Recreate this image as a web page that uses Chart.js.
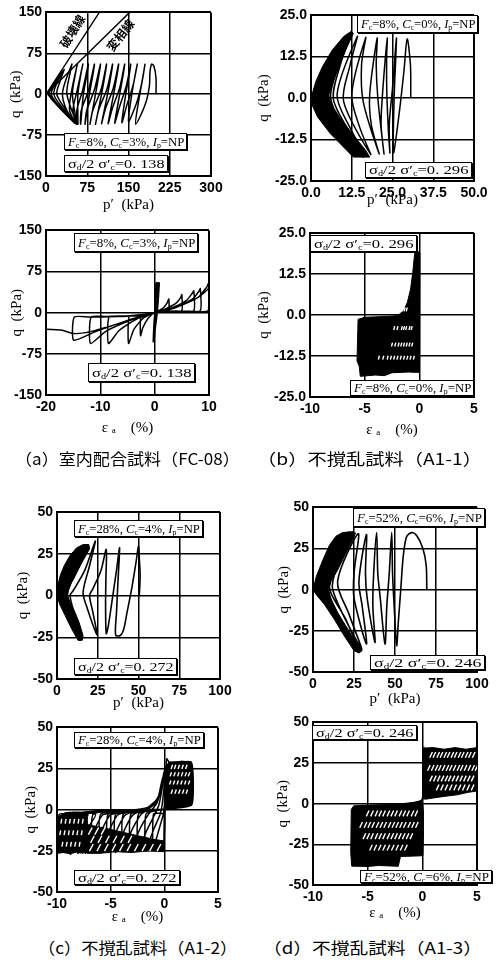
<!DOCTYPE html>
<html lang="ja">
<head>
<meta charset="utf-8">
<title>有効応力経路と応力ひずみ関係</title>
<script src="https://cdn.jsdelivr.net/npm/chart.js@4.4.1/dist/chart.umd.min.js"></script>
<style>
  html, body { margin: 0; padding: 0; background: #fff; }
  #page { position: relative; width: 499px; height: 970px; overflow: hidden; }
  #page canvas { position: absolute; }
  .box { position: absolute; background: #fff; border: 1px solid #000; box-shadow: 1px 1px 0 #000;
         box-sizing: border-box; overflow: hidden; white-space: nowrap; color: #000;
         font: 13px 'Liberation Serif', serif; display: flex; align-items: center; padding-left: 3px; }
  .box span, .cap span { display: inline-block; transform-origin: 0 50%; }
  .box sub { font-size: 8px; vertical-align: -2px; line-height: 0; }
  .cap { position: absolute; white-space: nowrap; font: 16px 'Noto Sans CJK JP', sans-serif; line-height: 20px; color: #000; }
  .lbl { position: absolute; white-space: nowrap; font: bold 12px 'Noto Sans CJK JP', sans-serif; line-height: 14px; }
</style>
</head>
<body>
<div id="page"></div>
<script>
// ---- (a) 室内配合試料 FC-08 : 有効応力経路 p'-q
const aPath = [
  [200,0],[200,30],[196,52],[192,55],[189,40],[188,15],[180,-20],[163,-55],
  [168,-15],[176,30],[180,55],[174,20],[165,-15],[150,-50],
  [156,0],[163,40],[166,55],[158,15],[147,-20],[138,-52],
  [145,0],[152,40],[154,55],[146,15],[134,-22],[125,-53],
  [134,0],[141,40],[143,55],[134,12],[121,-25],[113,-54],
  [123,0],[130,40],[132,55],[122,10],[108,-27],[101,-54],
  [112,0],[119,40],[121,55],[111,10],[96,-28],[90,-55],
  [101,0],[108,40],[110,55],[100,8],[85,-30],[80,-55],
  [90,0],[97,40],[99,55],[88,8],[74,-30],[71,-55],
  [79,0],[86,40],[88,55],[77,6],[64,-30],[63,-55],
  [68,0],[75,40],[77,55],[66,5],[56,-30],[58,-55],
  [58,0],[64,40],[67,55],[56,4],[49,-30],[56,-55],
  [48,0],[54,40],[57,55],[46,3],[43,-30],[56,-55],
  [38,0],[44,40],[47,55],[30,3],[38,-30],[56,-55],
  [20,-2],[26,25],[33,45],[14,2],[30,-25],[54,-54],
  [10,-2],[20,25],[31,43],[9,1],[26,-25],[52,-53],
  [6,-1],[18,25],[29,41],[5,1],[22,-22],[50,-51],
  [3,0]
];
const aFailLine = [[0,0],[97,150]];    // 破壊線
const aPhaseLine = [[0,0],[152,150]];  // 変相線

// ---- (a) 応力ひずみ εa-q
const aLoop = [
  [0,0],[0.25,54],[0.1,5],[0,-44],[0.15,-2],[0.4,55],[0.2,5],[-0.1,-46],[0.2,-2],[0.55,54],
  [0.3,5],[-0.15,-48],[0.25,-3],[0.7,55],[0.4,3],[-0.2,-50],[0.3,-4],[0.85,54],[0.5,3],[-0.25,-53],
  [0,-5],[0.5,2],[1.5,8],[2.3,18],[2.6,25],
  [2.55,3],[1.2,2],[0,0],[-1.2,-10],[-2.2,-28],[-2.6,-42],
  [-2.5,-6],[-1,-3],[0,0],[2,7],[4,18],[4.8,28],[5,33],
  [4.95,3],[2.5,2.5],[0.5,1.5],[0,0],[-2,-9],[-3.8,-30],[-4.8,-56],
  [-4.7,-7],[-3,-6],[-1,-3],[0,0],[3,8],[5.8,22],[6.9,35],[7.2,40],
  [7.15,3],[3,2.5],[0.5,2],[0,0],[-3,-10],[-6.5,-32],[-8.5,-56],
  [-8.4,-8],[-6,-7],[-2.5,-4],[0,0],[3.5,8],[7,25],[8.2,40],[8.4,44],
  [8.35,3],[4,3],[1,2],[0,0],[-4,-12],[-9,-34],[-11.8,-56],
  [-11.7,-8],[-9,-7],[-4,-5],[0,0],[4,10],[8,28],[9.6,47],[9.9,53],
  [9.9,4],[5,3],[1,2],[0,0],[-5,-14],[-11,-35],[-14.9,-50],
  [-14.8,-8],[-12,-8],[-10,-8],[-5,-6],[0,0],[4,10],[8,28],[10,45],[10.5,55],
  [10.3,4],[5,3],[0,0],[-5,-15],[-12,-35],[-15,-38],[-17,-32],[-20,-30],[-22,-30]
];

// ---- (b) 不撹乱試料 A1-1
const bPath = [
  [30.6,0],[30.5,10],[29.5,17.8],[28.5,8],[27,-5],[25.3,-16.5],
  [25.5,0],[26,12],[26.2,18],[25,3],[24,-8],[24.2,-16.5],
  [23.3,0],[23.2,12],[23.4,18],[22,2],[21.5,-8],[22.4,-16.8],
  [20.5,0],[20,10],[20.3,18],[18,1],[18.5,-8],[20.9,-16.8],
  [16,-1],[15.5,10],[16.8,18.2],[12.5,1],[15,-9],[18.3,-17],
  [10,-1],[12,10],[14.2,18.5],[8,1],[12,-9],[16.8,-17.5],
  [7,-1],[9,10],[12.5,19.5],[6,1],[10,-9],[16,-17.8],
  [5,0]
];
const bWedge = [[0,0],[1.5,5],[3.5,9.4],[6.5,14.4],[10,18.5],[12.2,20],[13,19.5],[10.6,14.4],[8.6,9.4],
  [6.5,4.3],[5.5,1],[6,-2],[8.6,-5.7],[12.7,-10.8],[16.8,-15.8],[18,-17.8],[13,-17.8],[11,-15.8],
  [6,-10.8],[2,-5.7],[0.3,-2],[0,0]];
const bLoopArea = [[-5.6,-1.3],[-5,-0.7],[-3.5,-0.5],[-2,-0.2],[-1.45,1.2],[-1.1,3.8],[-0.8,7.9],[-0.6,13],
  [-0.45,18],[-0.35,19.8],[-0.15,19.5],[0.05,18.8],[0.05,10],[0,0],[0,-17.5],[-1,-17.4],[-2.5,-17.6],
  [-3.2,-18.5],[-4,-18.3],[-5.4,-18.7],[-5.5,-15.6],[-5.7,-14],[-5.6,-1.3]];
const bSpeckQ = [1.7, -4, -9, -13];
const bSpeckE = [
  [-1.55,-1.35,-1.15],
  [-2.3,-2.0,-1.6,-1.4,-1.2,-0.9,-0.7],
  [-2.5,-2.2,-1.9,-1.65,-1.4,-1.15,-0.9,-0.65],
  [-3.7,-3.3,-2.9,-2.6,-2.3,-2.0,-1.7,-1.4,-1.1,-0.8,-0.5]
];

// ---- (c) 不撹乱試料 A1-2
const cPath = [
  [50.5,0],[51,12],[50.5,22],[50,29.5],[48.5,20],[46,5],[43,-10],[41,-20],[39,-23.8],[36,-23.8],
  [36.5,-10],[37.5,10],[38.4,28.6],[36.5,15],[33.5,-5],[31.5,-18],[30.2,-22.8],
  [29.8,-5],[30,10],[30.2,27.6],[27,15],[22,4],[20,0],[22,-10],[24.5,-23.4],
  [18,-6],[16,2],[20,18],[23.5,32.6],[17,15],[10,3],[8,0],[11,-12],[15,-25],
  [6,-3],[8,8],[14,22],[19,29.6],[10,10],[4,1],[8,-12],[14.3,-26.4],
  [3,-2],[8,12],[17.5,30],[6,6],[2,0],[7,-12],[13,-26],[1,-1]
];
const cWedge = [[0,0],[0.5,6],[2,12],[4.5,18],[8,24],[12,28.5],[16,30.5],[19.5,30.5],[20,28],[16,21],
  [12,14],[9,8],[7,3],[6.5,0],[8,-4],[11,-10],[13.5,-16],[16,-24],[15.5,-26.8],[13,-27],[9,-20],
  [5,-12],[2,-6],[0.5,-2],[0,0]];
const cLoop = [
  [0,0],[0.1,20],[0,-2],[-0.05,-24],[0.05,-3],[0.15,25],[0.05,-2],[-0.08,-25],[0.02,-3],
  [-1.0,-2.5],[-1.05,-24],[-0.5,-12],[-0.1,-3],[0,2],[0.15,15],[0.4,27],[0.9,28.5],[0.95,3],[0,0.5],
  [-1.7,-2.5],[-1.75,-25],[-1.0,-12],[-0.4,-3],[-0.2,3],[0,15],[0.3,27],[1.2,28.5],[1.25,3],[0,0.5],
  [-2.4,-2.5],[-2.45,-25],[-1.6,-12],[-0.9,-3],[-0.5,3],[-0.15,15],[0.2,27],[1.5,28.5],[1.55,3],[0,0.5],
  [-3.1,-2.5],[-3.15,-25.5],[-2.3,-12],[-1.5,-3],[-0.7,4],[-0.2,15],[0.2,27],[1.8,29],[1.85,3],[0,0.5],
  [-3.8,-2.5],[-3.85,-25.5],[-3.0,-12],[-2.2,-3],[-0.8,4],[-0.2,15],[0.2,27],[2.0,29],[2.05,3],[0,0.5],
  [-4.5,-2.5],[-4.55,-26],[-3.7,-12],[-2.9,-3],[-1.0,3],[-0.3,12],[0.15,26],[2.2,28.5],[2.25,3],[0,0.5],
  [-5.2,-2.5],[-5.25,-26],[-4.4,-12],[-3.6,-3],[-1.2,2],[-0.4,10],[0.1,25],[2.35,29],[2.4,3],[0,0.5],
  [-5.9,-2.5],[-5.95,-26],[-5.1,-12],[-4.3,-3],[-1.4,1.5],[-0.5,8],[0.1,24],[2.45,28.5],[2.5,3],[0,0.5],
  [-6.6,-2.5],[-6.65,-26],[-5.8,-12],[-5.0,-3],[-1.5,1.4],[-0.6,7],[0,22],[2.5,29],[2.55,3],[0,0.5],
  [-7.3,-2.5],[-7.35,-26.5],[-6.5,-12],[-5.7,-3],[-1.6,1.2],[-0.6,7],[-0.16,15],[0.16,25],[0.22,31],
  [0.5,28.5],[2.5,28.5],[2.55,3],[0,0.5],
  [-8.0,-2.2],[-8.05,-26.5],[-7.2,-12],[-6.4,-3],[-8.7,-2.2],[-8.75,-27],[-7.9,-12],[-7.1,-3],
  [-9.3,-2.2],[-9.35,-26],[-8.5,-12],[-7.8,-3],[-9.8,-3],[-9.9,-26.5]
];
const cLeftBlock = [[-9.95,-26.5],[-9.95,-8],[-9.8,-4],[-9.4,-2.3],[-8.5,-2],[-7.2,-2],[-7.2,-25],
  [-7.6,-26.5],[-8.2,-25.8],[-8.8,-26.8],[-9.4,-26],[-9.95,-26.5]];
const cLowBand = [[-7.2,-9],[-5,-12],[-3,-15],[-1,-18],[0,-19],[0,-25.5],[-1.5,-25],[-3,-26],[-4.5,-25.5],
  [-6,-26.5],[-7.2,-26.5],[-7.2,-9]];
const cRightBlock = [[0,0.5],[0.08,10],[0.15,20],[0.25,27],[0.45,29],[1.5,29.2],[2.5,28.8],[2.6,26],
  [2.55,3],[1.5,2.5],[0.5,1.5],[0,0.5]];
const cSpeckQ = [26, 21.5, 16.5, 11];
const cSpeckE = [
  [0.7,1.0,1.35,1.7,2.05],
  [0.6,0.95,1.3,1.65,2.0,2.3],
  [0.55,0.9,1.25,1.6,1.95,2.3],
  [0.7,1.05,1.4,1.75,2.1]
];
const cLeftSpeckQ = [-7, -14, -21];
const cLeftSpeckE = [
  [-9.6,-9.2,-8.8,-8.4,-8.0,-7.6],
  [-9.7,-9.3,-8.9,-8.5,-8.1,-7.7],
  [-9.5,-9.1,-8.7,-8.3,-7.9]
];
const cBandStreakQ = [-13, -18, -23];
const cBandStreakE = [
  [-6.9,-6.3,-5.7],
  [-6.7,-6.0,-5.3,-4.6,-3.9,-3.2],
  [-6.8,-6.1,-5.4,-4.7,-4.0,-3.3,-2.6,-1.9,-1.2,-0.5]
];

// ---- (d) 不撹乱試料 A1-3
const dPath = [
  [69.4,0],[69,15],[67,25],[63.5,32.5],[60.2,34.7],[57,32],[55,20],[53.5,0],[52,-20],[51,-34],
  [49.5,-10],[48.5,10],[48,34.7],[46.5,10],[45,-10],[43.9,-33],
  [41,-5],[39.5,10],[38.8,34.7],[37,10],[36.5,-10],[37.8,-32],
  [33,-5],[32,10],[32.6,33.5],[28,5],[30,-10],[32.6,-33],
  [25,-5],[25,10],[27.6,34],[15,5],[22,-15],[29.6,-36],
  [12,0],[15,15],[24,35],[10,3],[20,-18],[28,-37],[9,-1],[12,12],[22,35],[9,2],[18,-20],[27,-37],[7,0]
];
const dWedge = [[0,0],[2,8],[6,18],[10,27],[14,32.5],[18,34.7],[23,35.2],[26,34.5],[24,30],[20,22],[15,12],
  [11,5],[9.5,0],[11,-6],[15,-14],[20,-22],[25,-30],[30,-37],[28,-38.5],[25,-37],[19,-28],[13,-18],
  [7,-9],[2,-3],[0,0]];
const dUpBlock = [[0,3],[0.05,10],[0.05,23],[0.1,30],[0.15,34.2],[1,34.5],[2,33.5],[3,34.5],[4,33.5],
  [5,34.5],[5.2,34.8],[5.25,25],[5.2,8],[4.2,7],[3.2,5.5],[2,4.5],[1,3.5],[0.3,2.8],[0,3]];
const dLowBlock = [[-6.5,-3.5],[-6.3,-1.5],[-5.5,-1],[-4,-0.8],[-2.9,-0.6],[-1.5,0],[-0.8,0.8],[-0.3,1.5],
  [0,2],[0.1,-5],[0.1,-20],[0.05,-32],[-2.0,-32.5],[-2.2,-38.5],[-4,-38],[-5,-38.6],[-6.46,-38.4],
  [-6.55,-30],[-6.5,-3.5]];
const dSCurve = [[-6.3,-1.5],[-3,-0.6],[-1,0.5],[-0.3,1.5],[0,3],[0.05,15],[0.1,30],[0.15,35]];
const dStreakQ = [30, 22, 15.5, 10, -6, -13, -20, -27];
const dStreakE = [
  [0.8,1.1,1.45,1.75,2.1,2.4,2.75,3.05,3.4,3.7,4.05,4.35,4.7],
  [0.6,0.95,1.3,1.6,1.95,2.3,2.6,2.95,3.3,3.6,3.95,4.3,4.65,4.95],
  [0.8,1.15,1.5,1.85,2.2,2.5,2.85,3.2,3.55,3.9,4.25,4.6],
  [1.4,1.8,2.2,2.6,3.0,3.4,3.8,4.2,4.6],
  [-5.0,-4.6,-4.2,-3.85,-3.5,-3.1,-2.75,-2.4,-2.0,-1.65,-1.3,-0.9,-0.55],
  [-5.6,-5.2,-4.85,-4.5,-4.1,-3.75,-3.4,-3.0,-2.65,-2.3,-1.95,-1.6,-1.2,-0.85,-0.5],
  [-5.3,-4.95,-4.6,-4.2,-3.85,-3.5,-3.1,-2.75,-2.4,-2.05,-1.7,-1.35,-1.0],
  [-4.7,-4.3,-3.9,-3.5,-3.1,-2.7,-2.3,-1.9,-1.5]
];

// 軸目盛
const ticksP300 = [0, 75, 150, 225, 300];
const ticksQ150 = [-150, -75, 0, 75, 150];
const ticksEps20 = [-20, -10, 0, 10];
const ticksP50 = [0, 12.5, 25, 37.5, 50];
const ticksQ25 = [-25, -12.5, 0, 12.5, 25];
const ticksP100 = [0, 25, 50, 75, 100];
const ticksQ50 = [-50, -25, 0, 25, 50];
const ticksEps10 = [-10, -5, 0, 5];

const page = document.getElementById('page');
const tickFont = { family: "'Liberation Sans', Arial, sans-serif", size: 14, weight: 'bold' };
const titleFont = { family: "'Liberation Serif', serif", size: 15 };
const int = v => String(v);
const one = v => v.toFixed(1);

function xy(pairs) { return pairs.map(p => ({ x: p[0], y: p[1] })); }

function lineSet(pairs, width, tension) {
  return { data: xy(pairs), showLine: true, borderColor: '#000', borderWidth: width,
           pointRadius: 0, tension: tension, fill: false, order: 2 };
}
function polySet(pairs) {
  return { data: xy(pairs), showLine: true, borderColor: '#000', borderWidth: 1,
           backgroundColor: '#000', pointRadius: 0, fill: 'shape', order: 3 };
}
function streakSet(rowsE, rowsQ, rot, r) {
  const pts = [];
  rowsE.forEach((row, i) => row.forEach(e => pts.push({ x: e, y: rowsQ[i] })));
  return { data: pts, showLine: false, pointStyle: 'line', pointRadius: r, borderColor: '#fff',
           pointBorderColor: '#fff', pointBorderWidth: 1.4, pointRotation: rot, order: 1 };
}

function axis(ticks, fmt, title, fit) {
  return {
    type: 'linear', min: ticks[0], max: ticks[ticks.length - 1],
    afterBuildTicks: s => { s.ticks = ticks.map(v => ({ value: v })); },
    afterFit: fit,
    grid: { color: '#000', drawTicks: false,
            lineWidth: c => (c.tick && (c.tick.value === ticks[0] || c.tick.value === ticks[ticks.length - 1])) ? 2 : 1.5 },
    border: { color: '#000', width: 2 },
    ticks: { color: '#000', padding: 4, font: tickFont, autoSkip: false, maxRotation: 0, callback: v => fmt(v) },
    title: { display: true, text: title, color: '#000', font: titleFont, padding: 0 }
  };
}

// p: frame [left, top, right, bottom], cv: [left, top, width, height]
function makeChart(p, xTicks, xFmt, xTitle, yTicks, yFmt, datasets) {
  const [fl, ft, fr, fb] = p.frame;
  const [cl, ct, cw, ch] = p.cv;
  const cv = document.createElement('canvas');
  cv.width = cw; cv.height = ch;
  cv.style.left = cl + 'px'; cv.style.top = ct + 'px';
  page.appendChild(cv);
  const padL = p.yTitleX - 9 - cl;
  const yW = fl - cl - padL;
  const xH = p.xTitleY + 9 - fb;
  new Chart(cv, {
    type: 'scatter',
    data: { datasets: datasets },
    options: {
      responsive: false, animation: false, events: [],
      layout: { padding: { left: padL, top: ft - ct, right: cl + cw - fr, bottom: ct + ch - fb - xH } },
      plugins: { legend: { display: false }, tooltip: { enabled: false } },
      scales: {
        x: axis(xTicks, xFmt, xTitle, s => { s.height = xH; }),
        y: axis(yTicks, yFmt, 'q  (kPa)', s => { s.width = yW; })
      }
    }
  });
}

const pTitle = "p\u2032  (kPa)";
const eTitle = "\u03b5 \u2090    (%)";

makeChart({ frame: [46, 10, 211, 176], cv: [0, 0, 240, 216], yTitleX: 16, xTitleY: 205 },
  ticksP300, int, pTitle, ticksQ150, int,
  [lineSet(aPath, 1.5, 0.3), lineSet(aFailLine, 1.4, 0), lineSet(aPhaseLine, 1.4, 0)]);
makeChart({ frame: [311, 15, 474, 181], cv: [250, 0, 249, 214], yTitleX: 264, xTitleY: 200 },
  ticksP50, one, pTitle, ticksQ25, one,
  [polySet(bWedge), lineSet(bPath, 1.5, 0.3)]);
makeChart({ frame: [46, 228, 209, 395], cv: [0, 218, 240, 230], yTitleX: 17, xTitleY: 428 },
  ticksEps20, int, eTitle, ticksQ150, int,
  [lineSet(aLoop, 1.5, 0.2)]);
makeChart({ frame: [310, 233, 474, 397], cv: [250, 220, 249, 225], yTitleX: 264, xTitleY: 430 },
  ticksEps10, int, eTitle, ticksQ25, one,
  [polySet(bLoopArea), streakSet(bSpeckE, bSpeckQ, -75, 2)]);
makeChart({ frame: [57, 512, 220, 679], cv: [0, 497, 240, 216], yTitleX: 23, xTitleY: 703 },
  ticksP100, int, pTitle, ticksQ50, int,
  [polySet(cWedge), lineSet(cPath, 1.6, 0.3)]);
makeChart({ frame: [313, 507, 477, 672], cv: [250, 495, 249, 214], yTitleX: 284, xTitleY: 699 },
  ticksP100, int, pTitle, ticksQ50, int,
  [polySet(dWedge), lineSet(dPath, 1.6, 0.3)]);
makeChart({ frame: [57, 727, 218, 892], cv: [0, 715, 240, 220], yTitleX: 31, xTitleY: 917 },
  ticksEps10, int, eTitle, ticksQ50, int,
  [polySet(cLeftBlock), polySet(cLowBand), polySet(cRightBlock), lineSet(cLoop, 1.5, 0.15),
   streakSet(cSpeckE, cSpeckQ, -70, 2.2), streakSet(cLeftSpeckE, cLeftSpeckQ, -80, 2.5),
   streakSet(cBandStreakE, cBandStreakQ, -62, 4)]);
makeChart({ frame: [313, 722, 477, 885], cv: [250, 710, 249, 215], yTitleX: 283, xTitleY: 913 },
  ticksEps10, int, eTitle, ticksQ50, int,
  [polySet(dUpBlock), polySet(dLowBlock), lineSet(dSCurve, 1.3, 0.3), streakSet(dStreakE, dStreakQ, -65, 3.2)]);

// 試料条件の枠
const fc = (f, c) => '<i>F</i><sub>c</sub>=' + f + '%, <i>C</i><sub>c</sub>=' + c + '%, <i>I</i><sub>p</sub>=NP';
const sr = v => '\u03c3<sub>d</sub>/2 \u03c3\u2032<sub>c</sub>=' + v;
const boxes = [
  [64, 133, 123, 17, fc(8, 3)], [64, 155, 104, 17, sr('0. 138')],
  [357, 15, 121, 18, fc(8, 0)], [365, 162, 107, 16, sr('0. 296')],
  [74, 233, 124, 19, fc(8, 3)], [88, 363, 107, 19, sr('0. 138')],
  [310, 235, 107, 17, sr('0. 296')], [350, 380, 124, 16, fc(8, 0)],
  [74, 520, 129, 17, fc(28, 4)], [74, 658, 103, 17, sr('0. 272')],
  [353, 508, 132, 19, fc(52, 6)], [370, 655, 115, 15, sr('0. 246')],
  [74, 732, 130, 16, fc(28, 4)], [74, 870, 106, 15, sr('0. 272')],
  [312, 725, 105, 15, sr('0. 246')], [360, 870, 132, 13, fc(52, 6)]
];
boxes.forEach(b => {
  const d = document.createElement('div');
  d.className = 'box';
  d.style.cssText = 'left:' + b[0] + 'px;top:' + b[1] + 'px;width:' + b[2] + 'px;height:' + b[3] + 'px;';
  d.innerHTML = '<span>' + b[4] + '</span>';
  page.appendChild(d);
  const s = d.firstChild;
  s.style.transform = 'scaleX(' + ((b[2] - 7) / s.offsetWidth) + ')';
});

// 図の見出し
const captions = [
  [15, 225, 458, '（a）室内配合試料（FC-08）'],
  [257, 225, 458, '（b）不撹乱試料（A1-1）'],
  [38, 199, 947, '（c）不撹乱試料（A1-2）'],
  [263, 219, 947, '（d）不撹乱試料（A1-3）']
];
captions.forEach(c => {
  const d = document.createElement('div');
  d.className = 'cap';
  d.style.cssText = 'left:' + c[0] + 'px;top:' + (c[2] - 10) + 'px;';
  d.innerHTML = '<span>' + c[3] + '</span>';
  page.appendChild(d);
  const s = d.firstChild;
  s.style.transform = 'scaleX(' + (c[1] / s.offsetWidth) + ')';
});

// 破壊線・変相線のラベル
[[72, 31, -58, '破壊線'], [120, 35, -52, '変相線']].forEach(l => {
  const d = document.createElement('div');
  d.className = 'lbl';
  d.textContent = l[3];
  d.style.cssText = 'left:' + l[0] + 'px;top:' + l[1] + 'px;transform:translate(-50%,-50%) rotate(' + l[2] + 'deg);';
  page.appendChild(d);
});
</script>
</body>
</html>
